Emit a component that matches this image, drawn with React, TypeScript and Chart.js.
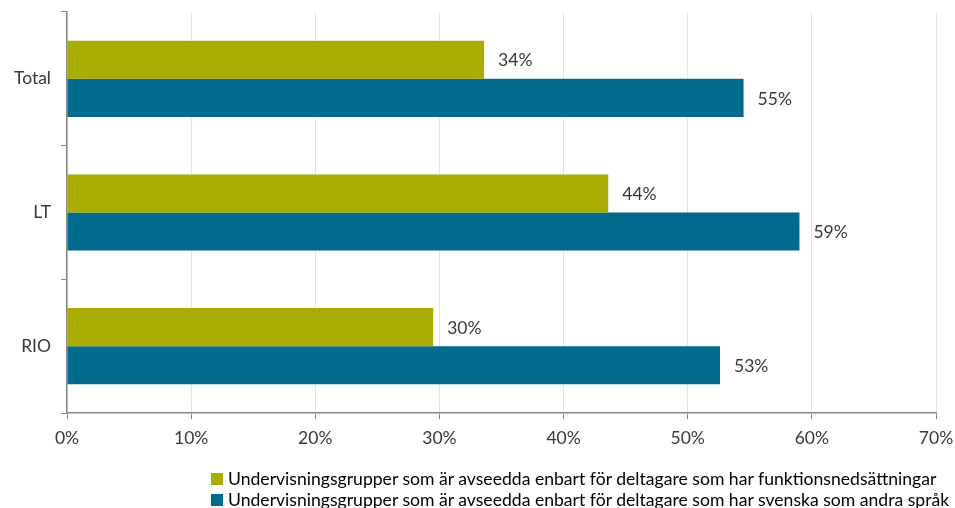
import React, { useEffect, useRef } from "react";
import { Chart, registerables } from "chart.js";

Chart.register(...registerables);

const categories = ["Total", "LT", "RIO"];
const seriesNames = [
  "Undervisningsgrupper som är avseedda enbart för deltagare som har funktionsnedsättningar",
  "Undervisningsgrupper som är avseedda enbart för deltagare som har svenska som andra språk",
];
const funktionValues = [33.6, 43.6, 29.5];
const svenskaValues = [54.5, 59.0, 52.6];
const seriesColors = ["#A9AD00", "#006B8D"];
const xTicks = [0, 10, 20, 30, 40, 50, 60, 70];

const FONT = "Lato, 'Open Sans', sans-serif";

const labelPlugin = {
  id: "barLabels",
  afterDatasetsDraw(chart: any) {
    const ctx = chart.ctx;
    ctx.save();
    ctx.font = `17.5px ${FONT}`;
    ctx.fillStyle = "#383838";
    ctx.textAlign = "left";
    ctx.textBaseline = "middle";
    chart.data.datasets.forEach((ds: any, di: number) => {
      const meta = chart.getDatasetMeta(di);
      meta.data.forEach((bar: any, i: number) => {
        const v = ds.data[i];
        ctx.fillText(Math.round(v) + "%", bar.x + 14, bar.y + 1);
      });
    });
    ctx.restore();
  },
};

export default function App() {
  const ref = useRef<HTMLCanvasElement>(null);
  useEffect(() => {
    document.body.style.margin = "0";
    const chart = new Chart(ref.current!, {
      type: "bar",
      data: {
        labels: categories,
        datasets: [
          { label: seriesNames[0], data: funktionValues, backgroundColor: seriesColors[0], barPercentage: 1, categoryPercentage: 0.57 },
          { label: seriesNames[1], data: svenskaValues, backgroundColor: seriesColors[1], barPercentage: 1, categoryPercentage: 0.57 },
        ],
      },
      options: {
        indexAxis: "y",
        animation: false,
        responsive: false,
        maintainAspectRatio: false,
        layout: { padding: { left: 0, right: 19, top: 12, bottom: 55 } },
        plugins: { legend: { display: false }, tooltip: { enabled: false } },
        scales: {
          x: {
            min: 0,
            max: 70,
            afterBuildTicks(scale: any) {
              scale.ticks = xTicks.map((v) => ({ value: v }));
            },
            afterFit(scale: any) {
              scale.height = 40;
              scale.paddingRight = 0;
              scale.paddingLeft = 0;
            },
            ticks: {
              callback: (v: any) => v + "%",
              font: { family: FONT, size: 17.5 },
              color: "#383838",
              padding: 9,
              maxRotation: 0,
            },
            grid: { color: "#e4e4e4", tickColor: "#888888", tickLength: 6, lineWidth: 1 },
            border: { color: "#888888", width: 1.5 },
          },
          y: {
            afterFit(scale: any) {
              scale.width = 67;
              scale.paddingTop = 0;
              scale.paddingBottom = 0;
            },
            ticks: {
              font: { family: FONT, size: 17.5 },
              color: "#383838",
              padding: 10,
            },
            grid: { drawOnChartArea: false, tickColor: "#888888", tickLength: 6, offset: true },
            border: { color: "#888888", width: 1.5 },
          },
        },
      },
      plugins: [labelPlugin],
    });
    return () => chart.destroy();
  }, []);

  const legendItem = (i: number) => (
    <div style={{ display: "flex", alignItems: "center", height: 21 }}>
      <span style={{ display: "inline-block", width: 12, height: 12, background: seriesColors[i], marginRight: 5 }} />
      <span>{seriesNames[i]}</span>
    </div>
  );

  return (
    <div style={{ position: "relative", width: 955, height: 508, overflow: "hidden", background: "#fff" }}>
      <canvas ref={ref} width={955} height={508} style={{ position: "absolute", left: 0, top: 0 }} />
      <div
        style={{
          position: "absolute",
          left: 211,
          top: 468,
          fontFamily: FONT,
          fontSize: 17.6,
          color: "#000",
          whiteSpace: "nowrap",
          lineHeight: "21px",
        }}
      >
        {legendItem(0)}
        {legendItem(1)}
      </div>
    </div>
  );
}
